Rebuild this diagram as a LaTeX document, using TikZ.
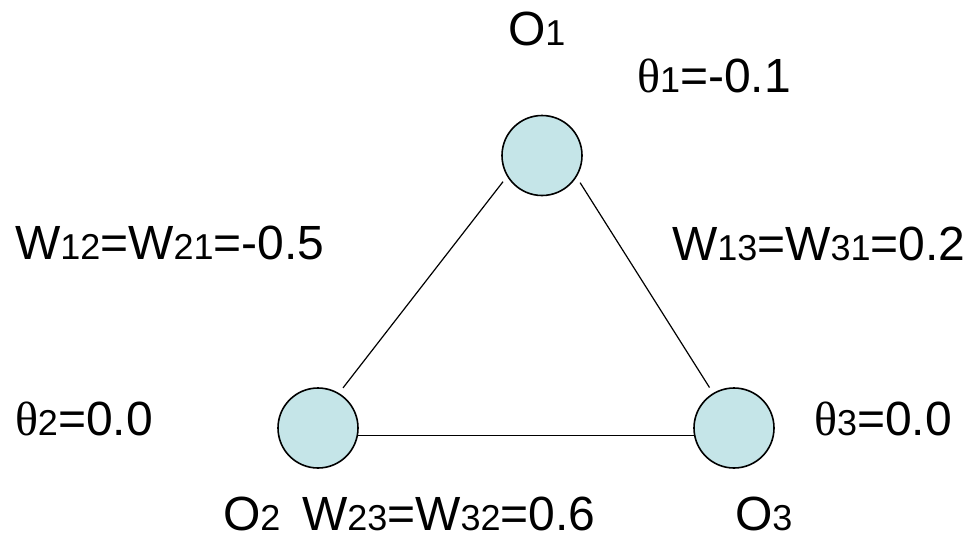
\documentclass[tikz,border=0pt]{standalone}
\usepackage{fontspec}
\setmainfont{Liberation Sans}
\newfontfamily\thfont{Liberation Serif}
\definecolor{nodefill}{RGB}{197,229,232}
\newcommand{\smalldig}[1]{{\fontsize{36}{40}\selectfont #1}}
\newcommand{\thet}{{\thfont θ}}
\begin{document}
\begin{tikzpicture}[x=1pt,y=-1pt,
  neuron/.style={circle,draw=black,line width=1.6pt,fill=nodefill,minimum size=80pt,inner sep=0pt},
  lbl/.style={anchor=base west,inner sep=0pt,outer sep=0pt,font=\fontsize{48}{52}\selectfont},
  link/.style={draw=black,line width=1.2pt},
  gap/.style={shorten <=6.5pt,shorten >=6.5pt}]
\useasboundingbox (0,0) rectangle (971,536);
\node[neuron] (o1) at (542,155.5) {};
\node[neuron] (o2) at (318,428) {};
\node[neuron] (o3) at (734,428) {};
\draw[link,gap] (o1.211.5) -- (o2.59);
\draw[link,gap] (o1.328.3) -- (o3.121);
\draw[link] (o2.-11.5) -- (o3.191.5);
\node[lbl] (t1) at (508,45) {O\smalldig{1}};
\node[lbl] (t2) at (637,92) {\thet\smalldig{1}=-0.1};
\node[lbl] (t3) at (15,259) {W\smalldig{12}=W\smalldig{21}=-0.5};
\node[lbl] (t4) at (672,260) {W\smalldig{13}=W\smalldig{31}=0.2};
\node[lbl] (t5) at (15,435) {\thet\smalldig{2}=0.0};
\node[lbl] (t6) at (814,435) {\thet\smalldig{3}=0.0};
\node[lbl] (t7) at (223,530) {O\smalldig{2}};
\node[lbl] (t8) at (302,530) {W\smalldig{23}=W\smalldig{32}=0.6};
\node[lbl] (t9) at (735,530) {O\smalldig{3}};
\end{tikzpicture}
\end{document}
